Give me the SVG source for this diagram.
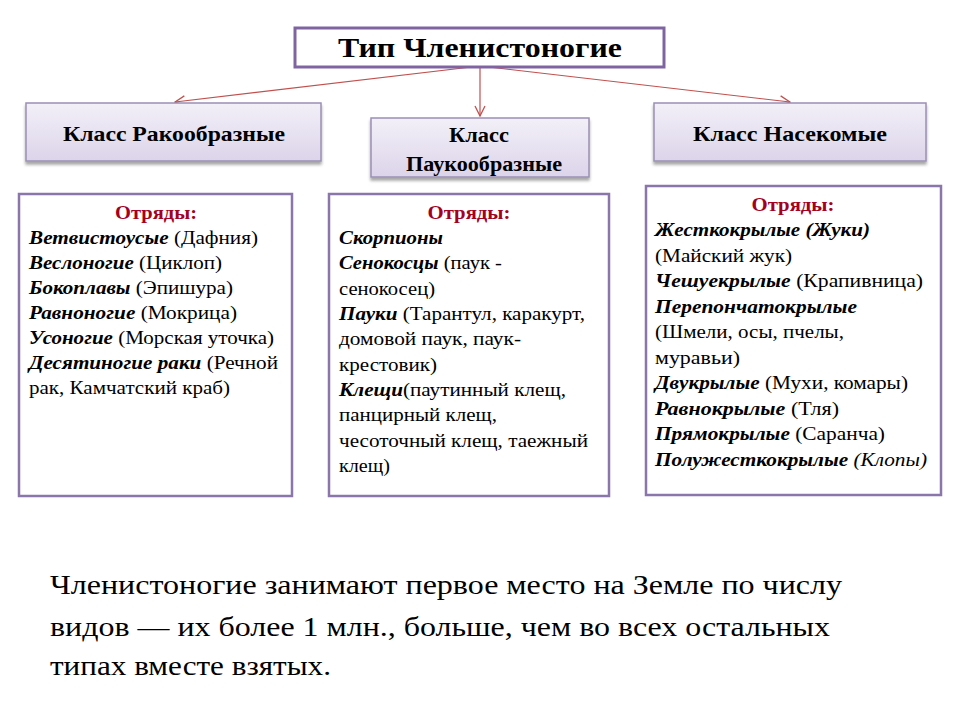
<svg xmlns="http://www.w3.org/2000/svg" width="960" height="720" viewBox="0 0 960 720">
<defs>
<linearGradient id="cls" x1="0" y1="0" x2="0" y2="1">
<stop offset="0" stop-color="#f3f0f8"/>
<stop offset="1" stop-color="#dcd4ea"/>
</linearGradient>
<filter id="sh" x="-5%" y="-10%" width="110%" height="130%">
<feDropShadow dx="0" dy="3" stdDeviation="1.5" flood-color="#000" flood-opacity="0.35"/>
</filter>
<marker id="arr" viewBox="0 0 12 12" refX="11" refY="6" markerWidth="12" markerHeight="12" markerUnits="userSpaceOnUse" orient="auto">
<path d="M1,1 L11,6 L1,11" fill="none" stroke="#c0504d" stroke-width="1.3"/>
</marker>
</defs>
<style>
text{font-family:'Liberation Serif','Times New Roman','DejaVu Serif',serif;}
.cls{fill:url(#cls);stroke:#9a8fb5;stroke-width:1.5;filter:url(#sh);}
.lst{fill:#fff;stroke:#8a76ab;stroke-width:2.5;}
.ct{font-weight:bold;font-size:22px;fill:#000;text-anchor:middle;}
.lt{font-size:18px;fill:#000;}
.hd{font-weight:bold;fill:#a50021;text-anchor:middle;}
.bi{font-weight:bold;font-style:italic;}
.it{font-style:italic;}
.con{stroke:#c0504d;stroke-width:1.2;fill:none;marker-end:url(#arr);}
</style>
<rect width="960" height="720" fill="#fff"/>

<g id="connectors">
<line class="con" x1="480" y1="66" x2="175" y2="102"/>
<line class="con" x1="480" y1="66" x2="480" y2="116"/>
<line class="con" x1="480" y1="66" x2="790" y2="102"/>
</g>

<g id="type">
<rect x="295" y="28" width="369" height="39" fill="#fff" stroke="#8064a2" stroke-width="3"/>
<text x="480" y="57" class="ct" style="font-size:27px" textLength="284" lengthAdjust="spacingAndGlyphs">Тип Членистоногие</text>
</g>

<g id="crust">
<rect class="cls" x="26" y="103" width="295" height="58"/>
<text x="174" y="141" class="ct" textLength="222" lengthAdjust="spacingAndGlyphs">Класс Ракообразные</text>
</g>

<g id="arach">
<rect class="cls" x="371" y="118" width="218" height="59"/>
<text x="479" y="142" class="ct" textLength="60" lengthAdjust="spacingAndGlyphs">Класс</text>
<text x="484" y="171" class="ct" textLength="156" lengthAdjust="spacingAndGlyphs">Паукообразные</text>
</g>

<g id="insect">
<rect class="cls" x="654" y="103" width="272" height="58"/>
<text x="790" y="141" class="ct" textLength="194" lengthAdjust="spacingAndGlyphs">Класс Насекомые</text>
</g>

<g id="crust-list">
<rect class="lst" x="19" y="194" width="273" height="302"/>
<text class="lt hd" x="156" y="219" textLength="82" lengthAdjust="spacingAndGlyphs">Отряды:</text>
<text class="lt" x="29" y="244" textLength="229" lengthAdjust="spacingAndGlyphs"><tspan class="bi">Ветвистоусые</tspan> (Дафния)</text>
<text class="lt" x="29" y="269" textLength="193" lengthAdjust="spacingAndGlyphs"><tspan class="bi">Веслоногие</tspan> (Циклоп)</text>
<text class="lt" x="29" y="294" textLength="204" lengthAdjust="spacingAndGlyphs"><tspan class="bi">Бокоплавы</tspan> (Эпишура)</text>
<text class="lt" x="29" y="319" textLength="208" lengthAdjust="spacingAndGlyphs"><tspan class="bi">Равноногие</tspan> (Мокрица)</text>
<text class="lt" x="29" y="344" textLength="245" lengthAdjust="spacingAndGlyphs"><tspan class="bi">Усоногие</tspan> (Морская уточка)</text>
<text class="lt" x="29" y="369" textLength="249" lengthAdjust="spacingAndGlyphs"><tspan class="bi">Десятиногие раки</tspan> (Речной</text>
<text class="lt" x="29" y="394" textLength="201" lengthAdjust="spacingAndGlyphs">рак, Камчатский краб)</text>
</g>

<g id="arach-list">
<rect class="lst" x="329" y="194" width="280" height="302"/>
<text class="lt hd" x="469" y="219" textLength="83" lengthAdjust="spacingAndGlyphs">Отряды:</text>
<text class="lt" x="339" y="244" textLength="104" lengthAdjust="spacingAndGlyphs"><tspan class="bi">Скорпионы</tspan></text>
<text class="lt" x="339" y="269" textLength="163" lengthAdjust="spacingAndGlyphs"><tspan class="bi">Сенокосцы</tspan> (паук -</text>
<text class="lt" x="339" y="295" textLength="96" lengthAdjust="spacingAndGlyphs">сенокосец)</text>
<text class="lt" x="339" y="320" textLength="246" lengthAdjust="spacingAndGlyphs"><tspan class="bi">Пауки</tspan> (Тарантул, каракурт,</text>
<text class="lt" x="339" y="345" textLength="182" lengthAdjust="spacingAndGlyphs">домовой паук, паук-</text>
<text class="lt" x="339" y="371" textLength="98" lengthAdjust="spacingAndGlyphs">крестовик)</text>
<text class="lt" x="339" y="396" textLength="227" lengthAdjust="spacingAndGlyphs"><tspan class="bi">Клещи</tspan>(паутинный клещ,</text>
<text class="lt" x="339" y="421" textLength="158" lengthAdjust="spacingAndGlyphs">панцирный клещ,</text>
<text class="lt" x="339" y="447" textLength="249" lengthAdjust="spacingAndGlyphs">чесоточный клещ, таежный</text>
<text class="lt" x="339" y="472" textLength="51" lengthAdjust="spacingAndGlyphs">клещ)</text>
</g>

<g id="insect-list">
<rect class="lst" x="646" y="186" width="295" height="309"/>
<text class="lt hd" x="793" y="211" textLength="83" lengthAdjust="spacingAndGlyphs">Отряды:</text>
<text class="lt" x="655" y="236" textLength="215" lengthAdjust="spacingAndGlyphs"><tspan class="bi">Жесткокрылые (Жуки)</tspan></text>
<text class="lt" x="655" y="262" textLength="137" lengthAdjust="spacingAndGlyphs">(Майский жук)</text>
<text class="lt" x="655" y="287" textLength="268" lengthAdjust="spacingAndGlyphs"><tspan class="bi">Чешуекрылые</tspan>  (Крапивница)</text>
<text class="lt" x="655" y="313" textLength="202" lengthAdjust="spacingAndGlyphs"><tspan class="bi">Перепончатокрылые</tspan></text>
<text class="lt" x="655" y="338" textLength="189" lengthAdjust="spacingAndGlyphs">(Шмели, осы, пчелы,</text>
<text class="lt" x="655" y="364" textLength="85" lengthAdjust="spacingAndGlyphs">муравьи)</text>
<text class="lt" x="655" y="389" textLength="253" lengthAdjust="spacingAndGlyphs"><tspan class="bi">Двукрылые</tspan> (Мухи, комары)</text>
<text class="lt" x="655" y="415" textLength="184" lengthAdjust="spacingAndGlyphs"><tspan class="bi">Равнокрылые</tspan>  (Тля)</text>
<text class="lt" x="655" y="440" textLength="230" lengthAdjust="spacingAndGlyphs"><tspan class="bi">Прямокрылые</tspan> (Саранча)</text>
<text class="lt" x="655" y="466" textLength="272" lengthAdjust="spacingAndGlyphs"><tspan class="bi">Полужесткокрылые</tspan> <tspan class="it">(Клопы)</tspan></text>
</g>

<g id="note" font-size="28" fill="#000">
<text x="50" y="594" textLength="792" lengthAdjust="spacingAndGlyphs">Членистоногие занимают первое место на Земле по числу</text>
<text x="50" y="636" textLength="780" lengthAdjust="spacingAndGlyphs">видов — их более 1 млн., больше, чем во всех остальных</text>
<text x="50" y="675" textLength="281" lengthAdjust="spacingAndGlyphs">типах вместе взятых.</text>
</g>
</svg>
